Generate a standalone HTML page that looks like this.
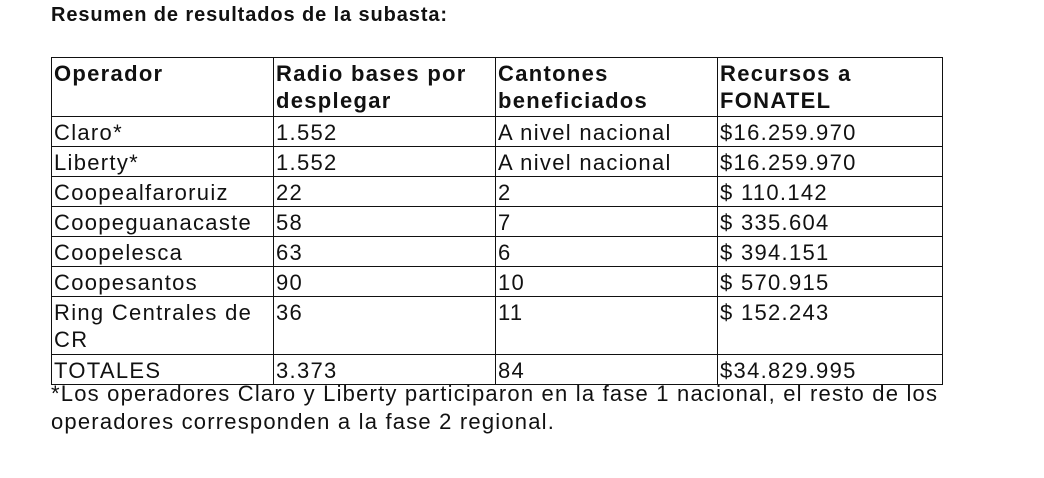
<!DOCTYPE html>
<html lang="es"><head><meta charset="utf-8">
<style>
html,body{margin:0;padding:0;background:#fff;width:1044px;height:478px;overflow:hidden;font-family:"Liberation Sans",sans-serif;color:#111;}
#title{position:absolute;left:51px;top:4px;font-size:20px;letter-spacing:0.9px;font-weight:bold;margin:0;white-space:nowrap;}
table{position:absolute;left:51px;top:57px;border-collapse:collapse;table-layout:fixed;font-size:22px;letter-spacing:1.3px;}
td,th{border:1px solid #111;padding:2px 0 0 2px;vertical-align:top;text-align:left;line-height:27px;white-space:nowrap;overflow:hidden;}
th{font-weight:bold;height:56px;}
td{height:26px;}
tr.two td{height:55px;}
#note{position:absolute;left:51px;top:380px;font-size:22px;letter-spacing:1.2px;line-height:28px;margin:0;white-space:nowrap;}
</style></head><body>
<h1 id="title">Resumen de resultados de la subasta:</h1>
<table>
<colgroup><col style="width:222px"><col style="width:222px"><col style="width:222px"><col style="width:225px"></colgroup>
<tr><th>Operador</th><th>Radio bases por<br>desplegar</th><th>Cantones<br>beneficiados</th><th>Recursos a<br>FONATEL</th></tr>
<tr><td>Claro*</td><td>1.552</td><td>A nivel nacional</td><td>$16.259.970</td></tr>
<tr><td>Liberty*</td><td>1.552</td><td>A nivel nacional</td><td>$16.259.970</td></tr>
<tr><td>Coopealfaroruiz</td><td>22</td><td>2</td><td>$ 110.142</td></tr>
<tr><td>Coopeguanacaste</td><td>58</td><td>7</td><td>$ 335.604</td></tr>
<tr><td>Coopelesca</td><td>63</td><td>6</td><td>$ 394.151</td></tr>
<tr><td>Coopesantos</td><td>90</td><td>10</td><td>$ 570.915</td></tr>
<tr class="two"><td>Ring Centrales de<br>CR</td><td>36</td><td>11</td><td>$ 152.243</td></tr>
<tr><td>TOTALES</td><td>3.373</td><td>84</td><td>$34.829.995</td></tr>
</table>
<p id="note">*Los operadores Claro y Liberty participaron en la fase 1 nacional, el resto de los<br>operadores corresponden a la fase 2 regional.</p>
</body></html>
